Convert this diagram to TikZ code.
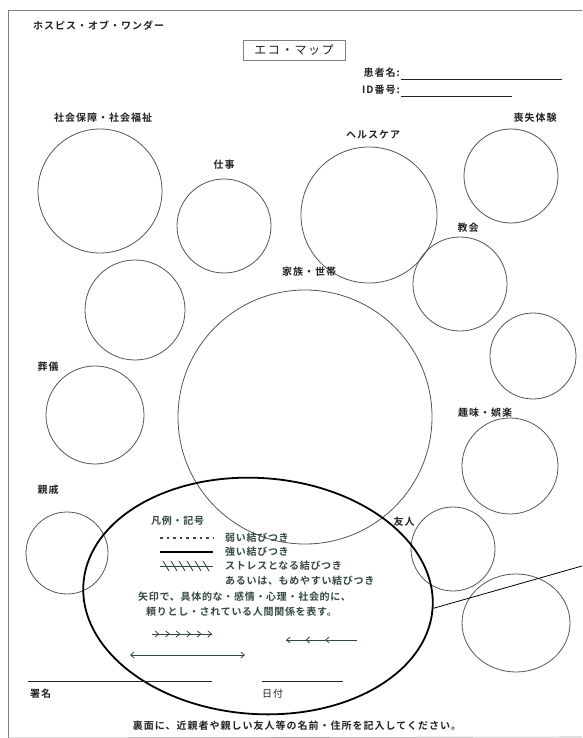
\documentclass[tikz,border=0pt]{standalone}
\usepackage{fontspec}
\setmainfont{Noto Sans CJK JP}[BoldFont={Noto Sans CJK JP Bold}]
\newfontfamily\jpls{Noto Sans CJK JP}[LetterSpace=10, BoldFont={Noto Sans CJK JP Bold}]
\newfontfamily\jplt{Noto Sans CJK JP}[LetterSpace=7, BoldFont={Noto Sans CJK JP Bold}]
\newfontfamily\jptitle{Noto Sans CJK JP}[LetterSpace=12]
\usetikzlibrary{shapes.geometric,arrows.meta,decorations.markings}
\definecolor{ink}{HTML}{222222}
\definecolor{leg}{HTML}{34493E}
\definecolor{cline}{HTML}{555555}
\tikzset{
  circ/.style={draw=cline, line width=0.8pt, circle, inner sep=0pt},
  lab/.style={font=\jpls\fontsize{10}{11}\selectfont\bfseries, text=ink, inner sep=0pt},
  legtxt/.style={font=\jplt\fontsize{10}{11}\selectfont\bfseries, text=leg, inner sep=0pt, anchor=west},
  field/.style={draw=ink, line width=0.6pt},
  multiarrow/.style={draw=leg, line width=0.8pt, postaction=decorate}
}
\begin{document}
\begin{tikzpicture}[x=1pt,y=-1pt]
\useasboundingbox (0,0) rectangle (582,738);
\fill[white] (0,0) rectangle (582,738);
% page frame
\coordinate (tl) at (8,10);
\coordinate (tr) at (582,10);
\coordinate (bl) at (8,738);
\coordinate (br) at (582,737);
\draw[draw=gray, line width=0.8pt] (tr) -- (tl) -- (bl);
\draw[draw=gray!70, line width=0.6pt] (bl) -- (br);
% header
\node[lab, anchor=west] (hosp) at (33,26) {ホスピス・オブ・ワンダー};
\node[draw=gray, line width=0.6pt, minimum width=102pt, minimum height=20pt, inner sep=0pt,
      font=\jptitle\fontsize{12}{13}\selectfont, text=ink] (title) at (294,50) {エコ・マップ};
\node[lab, anchor=east] (kanja) at (400,73) {患者名:};
\coordinate (k1) at (401,79); \coordinate (k2) at (562,79);
\draw[field] (k1) -- (k2);
\node[lab, anchor=east] (idno) at (400,90) {ID番号:};
\coordinate (i1) at (401,96); \coordinate (i2) at (512,96);
\draw[field] (i1) -- (i2);
% circles
\node[circ, minimum size=124pt] (shakai) at (100,191) {};
\node[lab] (shakaiL) at (103,118) {社会保障・社会福祉};
\node[circ, minimum size=94pt] (shigoto) at (224,226) {};
\node[lab] (shigotoL) at (224,165) {仕事};
\node[circ, minimum size=136pt] (health) at (369,215) {};
\node[lab] (healthL) at (373,135) {ヘルスケア};
\node[circ, minimum size=94pt] (soshitsu) at (511,176) {};
\node[lab] (soshitsuL) at (535,118) {喪失体験};
\node[circ, minimum size=94pt] (kyokai) at (460,284) {};
\node[lab] (kyokaiL) at (468,228) {教会};
\node[circ, minimum size=100pt] (left1) at (135,310) {};
\node[circ, minimum size=254pt] (kazoku) at (305,417) {};
\node[lab] (kazokuL) at (309,272) {家族・世帯};
\node[circ, minimum size=86pt] (right1) at (533,356) {};
\node[circ, minimum size=98pt] (sogi) at (95,415) {};
\node[lab] (sogiL) at (48,367) {葬儀};
\node[circ, minimum size=96pt] (shumi) at (510,466) {};
\node[lab] (shumiL) at (485,413) {趣味・娯楽};
\node[circ, minimum size=82pt] (shinseki) at (67,553) {};
\node[lab] (shinsekiL) at (48,490) {親戚};
\node[circ, minimum size=84pt] (yujin) at (453,549) {};
\node[lab] (yujinL) at (404,522) {友人};
\node[draw=cline, line width=0.8pt, ellipse, inner sep=0pt, minimum width=108pt, minimum height=98pt] (br1) at (516,623) {};
% legend ellipse
\node[draw=black, line width=1.8pt, ellipse, inner sep=0pt, minimum width=350pt, minimum height=236pt, rotate=-4] (legend) at (258,596) {};
\coordinate (lineend) at (582,566);
\draw[black, line width=0.8pt] (legend.east) -- (lineend);
% legend contents
\node[legtxt] (hanrei) at (151,521) {凡例・記号};
\coordinate (d1) at (160,538); \coordinate (d2) at (213,538);
\draw[leg, line width=2.4pt, dash pattern=on 2.6pt off 4pt] (d1) -- (d2);
\node[legtxt] (weak) at (225,538) {弱い結びつき};
\coordinate (s1) at (160,552); \coordinate (s2) at (213,552);
\draw[black, line width=2.4pt] (s1) -- (s2);
\node[legtxt] (strong) at (225,552) {強い結びつき};
\coordinate (t1) at (160,566); \coordinate (t2) at (213,566);
\draw[leg, line width=0.8pt] (t1) -- (t2);
\foreach \x in {166,174,182,190,198,206} {
  \draw[leg, line width=0.9pt] (\x-3,561) -- (\x+3,571);
}
\node[legtxt] (stress) at (225,566) {ストレスとなる結びつき};
\node[legtxt] (mome) at (225,581) {あるいは、もめやすい結びつき};
\node[legtxt] (yaji1) at (138,597) {矢印で、具体的な・感情・心理・社会的に、};
\node[legtxt] (yaji2) at (146,612) {頼りとし・されている人間関係を表す。};
\coordinate (r1) at (152,634); \coordinate (r2) at (212,634);
\draw[multiarrow, decoration={markings, mark=between positions 0.12 and 1 step 0.176 with {\arrow{Straight Barb[length=3.5pt,width=6pt]}}}] (r1) -- (r2);
\coordinate (l1) at (357,640); \coordinate (l2) at (286,640);
\draw[multiarrow, decoration={markings, mark=between positions 0.45 and 1 step 0.275 with {\arrow{Straight Barb[length=3.5pt,width=6pt]}}}] (l1) -- (l2);
\coordinate (b1) at (130,655); \coordinate (b2) at (245,655);
\draw[leg, line width=0.8pt, {Straight Barb[length=3.5pt,width=6pt]}-{Straight Barb[length=3.5pt,width=6pt]}] (b1) -- (b2);
% signature / date
\coordinate (sg1) at (28,681); \coordinate (sg2) at (212,681);
\draw[field] (sg1) -- (sg2);
\node[lab, anchor=west] (shomei) at (30,694) {署名};
\coordinate (dt1) at (262,681); \coordinate (dt2) at (343,681);
\draw[field] (dt1) -- (dt2);
\node[lab, font=\jpls\fontsize{10}{11}\selectfont, anchor=west] (hizuke) at (262,694) {日付};
\node[lab] (ura) at (297,726) {裏面に、近親者や親しい友人等の名前・住所を記入してください。};
\end{tikzpicture}
\end{document}
